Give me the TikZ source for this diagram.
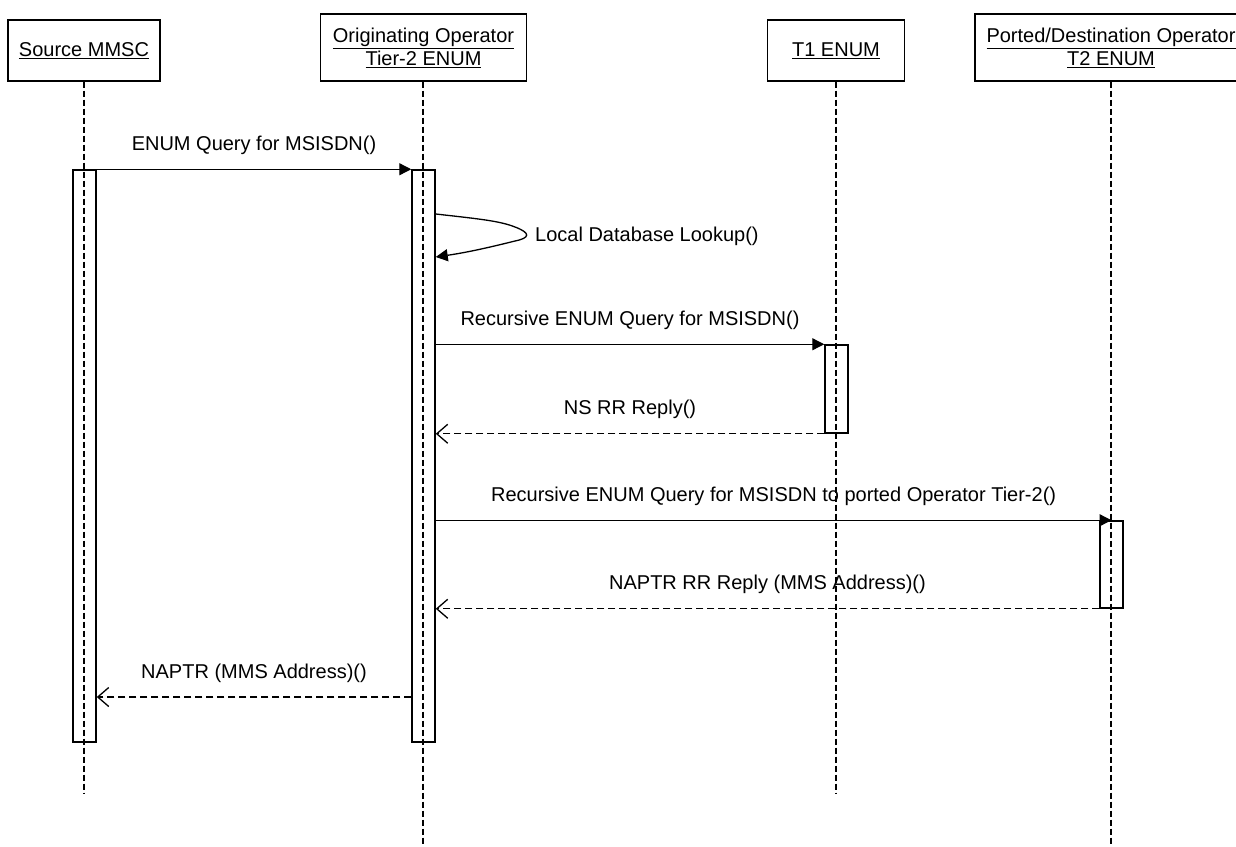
\documentclass[tikz,border=0pt]{standalone}
\usepackage{fontspec}
\setmainfont{Liberation Sans}
\usetikzlibrary{arrows.meta,calc}
\begin{document}
\begin{tikzpicture}[x=1pt,y=-1pt,
  hdr/.style={draw,line width=1.4pt,inner sep=0pt,align=center,font=\fontsize{20}{23}\selectfont},
  life/.style={line width=1.2pt,dash pattern=on 6pt off 3pt},
  act/.style={draw,line width=1.5pt,minimum width=23pt,inner sep=0pt},
  call/.style={line width=1.3pt,-{Triangle[length=12pt,width=12pt]}},
  reply/.style={line width=1.3pt,dash pattern=on 7pt off 4pt,-{Straight Barb[length=11pt,width=19pt,line width=1.3pt]}},
  lbl/.style={font=\fontsize{20}{24}\selectfont,inner sep=0pt,anchor=base,yshift=19pt}]
\useasboundingbox (0,0) rectangle (1236,846);

% headers
\node[hdr,minimum width=152pt,minimum height=61pt] (src) at (84,50.5) {\underline{Source MMSC}};
\node[hdr,minimum width=206pt,minimum height=67pt] (org) at (423.5,47.5) {\underline{Originating Operator}\\\underline{Tier-2 ENUM}};
\node[hdr,minimum width=137pt,minimum height=61pt] (t1) at (836,50.5) {\underline{T1 ENUM}};
\node[hdr,minimum width=272pt,minimum height=67pt] (pt) at (1111,47.5) {\underline{Ported/Destination Operator}\\\underline{T2 ENUM}};

% lifeline ends
\coordinate (srcE) at (84,793);
\coordinate (orgE) at (423,846);
\coordinate (t1E) at (836,793);
\coordinate (ptE) at (1111,846);
\draw[life] (src.south) -- (srcE);
\draw[life] (org.south -| orgE) -- (orgE);
\draw[life] (t1.south) -- (t1E);
\draw[life] (pt.south) -- (ptE);

% activations
\node[act,minimum height=572pt] (srcA) at (84.5,456) {};
\node[act,minimum height=572pt] (orgA) at (423.5,456) {};
\node[act,minimum height=88pt] (t1A) at (836.5,389) {};
\node[act,minimum height=87pt] (ptA) at (1111.5,564.5) {};

% message rows
\coordinate (s1) at (0,214);
\coordinate (s2) at (0,257);
\coordinate (y7) at (0,697);

\draw[call] (srcA.north east) -- node[lbl]{ENUM Query for MSISDN()} (orgA.north west);

\draw[line width=1.3pt,-{Triangle[length=12pt,width=12pt]}]
  (orgA.east |- s1) .. controls (480,219) and (500,221) .. (515,227)
  .. controls (531,233) and (530,238) .. (515,241)
  .. controls (495,246) and (470,252) .. (orgA.east |- s2);
\node[font=\fontsize{20}{24}\selectfont,inner sep=0pt,anchor=base west] (selfL) at (535,241) {Local Database Lookup()};

\draw[call] (orgA.east |- t1A.north) -- node[lbl]{Recursive ENUM Query for MSISDN()} (t1A.north west);
\draw[reply] (t1A.south west) -- node[lbl]{NS RR Reply()} (orgA.east |- t1A.south);

\draw[call] (orgA.east |- ptA.north) -- node[lbl]{Recursive ENUM Query for MSISDN to ported Operator Tier-2()} (ptA.north);
\draw[reply] (ptA.south west) -- node[lbl]{NAPTR RR Reply (MMS Address)()} (orgA.east |- ptA.south);

\draw[reply] (orgA.west |- y7) -- node[lbl]{NAPTR (MMS Address)()} (srcA.east |- y7);
\end{tikzpicture}
\end{document}
